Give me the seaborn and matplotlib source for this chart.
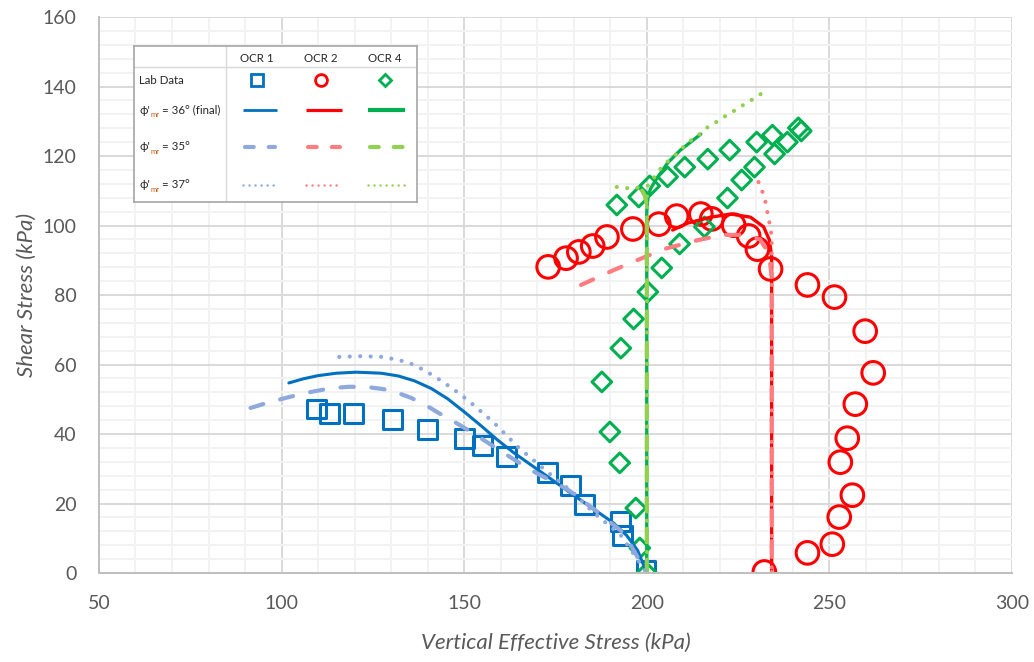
import matplotlib
matplotlib.use('Agg')
import matplotlib.pyplot as plt
import seaborn as sns
from matplotlib.ticker import MultipleLocator

# lab data
ocr1_lab_x = [109.6, 113.1, 119.7, 130.3, 140.0, 150.0, 155.1, 161.5, 172.9, 179.0, 182.9, 192.7, 193.4, 199.8]
ocr1_lab_y = [47.2, 45.8, 45.8, 44.2, 41.4, 38.6, 36.8, 33.6, 28.9, 25.1, 19.6, 14.8, 10.9, 0.6]

ocr2_lab_x = [173.0, 177.9, 181.4, 185.2, 189.1, 196.2, 203.3, 208.2, 214.8, 217.8, 223.8, 227.9, 230.3, 233.9,
              244.0, 251.4, 259.8, 262.0, 257.1, 254.9, 253.0, 256.3, 252.7, 250.8, 244.0, 232.2]
ocr2_lab_y = [88.1, 90.6, 92.4, 94.1, 96.7, 99.0, 100.4, 102.7, 103.3, 101.9, 100.1, 97.0, 93.2, 87.5,
              82.9, 79.4, 69.6, 57.6, 48.6, 38.8, 31.9, 22.4, 16.1, 8.3, 5.8, 0.3]

ocr4_lab_x = [200.0, 198.1, 197.0, 192.6, 189.9, 187.7, 192.9, 196.4, 200.3, 204.1, 209.0, 215.8, 222.1, 226.0,
              229.5, 235.0, 238.5, 241.5, 242.3, 234.4, 230.1, 222.7, 216.7, 210.4, 205.7, 200.8, 197.8, 191.8]
ocr4_lab_y = [0.0, 7.2, 18.7, 31.7, 40.6, 55.0, 64.7, 73.1, 80.9, 87.8, 94.7, 99.6, 107.9, 113.1,
              116.8, 120.6, 124.0, 128.1, 127.2, 126.0, 124.0, 121.7, 119.1, 116.8, 114.0, 111.4, 108.2, 105.9]

# model curves: phi'mr = 36 (final), 35, 37
ocr1_36_x = [102.0, 106.0, 110.0, 115.0, 120.5, 127.3, 132.0, 136.4, 141.0, 145.4, 150.0, 154.6, 159.0,
             163.6, 172.9, 181.9, 190.9, 194.5, 197.5, 200.0]
ocr1_36_y = [54.7, 55.9, 56.8, 57.5, 57.8, 57.5, 56.7, 55.3, 53.1, 50.2, 46.4, 42.4, 38.4,
             34.6, 27.7, 21.0, 14.4, 10.8, 6.5, 0.0]
ocr1_35_x = [91.5, 96.5, 101.9, 107.5, 113.6, 118.5, 123.7, 128.0, 131.4, 135.5, 139.5, 143.1, 147.5,
             151.9, 160.9, 168.3, 178.4, 185.5, 193.7, 200.0]
ocr1_35_y = [47.5, 49.1, 50.6, 52.0, 53.2, 53.6, 53.5, 52.9, 52.0, 50.4, 48.3, 46.0, 43.4,
             40.6, 34.5, 29.6, 24.0, 18.4, 11.5, 0.0]
ocr1_37_x = [115.8, 121.8, 127.8, 133.6, 136.3, 140.0, 144.2, 147.8, 151.3, 158.2, 165.0, 172.9, 180.0,
             185.5, 192.8, 200.0]
ocr1_37_y = [62.2, 62.4, 62.2, 60.9, 59.9, 57.8, 55.0, 52.3, 49.5, 43.2, 36.0, 29.0, 23.0,
             17.3, 11.0, 0.0]

ocr2_36_x = [207.1, 211.2, 217.5, 223.0, 228.4, 232.0, 233.6, 234.2, 234.2, 234.2]
ocr2_36_y = [98.7, 100.7, 102.4, 103.3, 102.4, 99.6, 95.8, 91.0, 50.0, 0.0]
ocr2_35_x = [182.0, 191.0, 204.6, 214.0, 221.0, 226.5, 231.0, 233.5, 234.2, 234.2]
ocr2_35_y = [82.9, 87.2, 93.2, 95.8, 97.3, 97.3, 96.0, 92.0, 85.0, 0.0]
ocr2_37_x = [230.6, 231.7, 232.5, 233.0, 233.6, 234.2, 234.2]
ocr2_37_y = [112.5, 109.6, 106.8, 103.9, 100.7, 97.0, 0.0]

ocr4_36_x = [200.0, 200.0, 200.0, 200.3, 201.0, 202.4, 205.7, 209.2, 214.8]
ocr4_36_y = [0.0, 60.0, 104.0, 108.0, 110.5, 113.0, 118.0, 121.7, 126.3]
ocr4_35_x = [200.0, 200.0, 200.0, 199.5, 198.5]
ocr4_35_y = [0.0, 60.0, 106.0, 108.5, 110.5]
ocr4_37_stem_x = [200.0, 200.0]
ocr4_37_stem_y = [0.0, 109.0]
ocr4_37_x = [191.8, 196.0, 200.3, 202.0, 203.8, 205.7, 207.9, 210.1, 212.3, 214.8, 216.9, 219.7, 222.1, 224.6, 227.0, 229.8, 232.2]
ocr4_37_y = [111.1, 110.6, 111.5, 113.8, 116.4, 118.4, 120.4, 122.7, 124.7, 126.5, 128.5, 130.2, 131.9, 133.4, 135.1, 136.8, 138.6]

BLUE, BLUE_L = '#0070C0', '#8EA9DB'
RED, RED_L = '#FF0000', '#FF7C80'
GREEN, GREEN_L = '#00B050', '#92D050'
GREY = '#595959'

DASH = (0, (3.2, 4.2))
DOT = (0, (0.01, 2.5))

sns.set_style('white')
plt.rcParams['font.family'] = ['Lato', 'DejaVu Sans']

fig = plt.figure(figsize=(10.34, 6.62), dpi=100)
ax = fig.add_axes([0.0957, 0.1344, 0.883, 0.8399])


def lab(x, y, marker, size, color):
    sns.scatterplot(x=x, y=y, marker=marker, s=size, color=color, facecolor='none',
                    edgecolor=color, linewidth=2.2, ax=ax)


def curve(x, y, color, lw, ls):
    sns.lineplot(x=x, y=y, sort=False, estimator=None, color=color, linewidth=lw,
                 linestyle=ls, dash_capstyle='round', solid_capstyle='round', ax=ax)


lab(ocr1_lab_x, ocr1_lab_y, 's', 185, BLUE)
lab(ocr2_lab_x, ocr2_lab_y, 'o', 265, RED)
lab(ocr4_lab_x, ocr4_lab_y, 'D', 100, GREEN)

curve(ocr1_36_x, ocr1_36_y, BLUE, 2.2, '-')
curve(ocr2_36_x, ocr2_36_y, RED, 2.4, '-')
curve(ocr4_36_x, ocr4_36_y, GREEN, 2.4, '-')
curve(ocr1_35_x, ocr1_35_y, BLUE_L, 3.0, DASH)
curve(ocr2_35_x, ocr2_35_y, RED_L, 3.0, DASH)
curve(ocr4_35_x, ocr4_35_y, GREEN_L, 3.0, DASH)
curve(ocr1_37_x, ocr1_37_y, BLUE_L, 3.0, DOT)
curve(ocr2_37_x, ocr2_37_y, RED_L, 3.0, DOT)
curve(ocr4_37_stem_x, ocr4_37_stem_y, GREEN_L, 3.0, DOT)
curve(ocr4_37_x, ocr4_37_y, GREEN_L, 3.0, DOT)

ax.set_xlim(50, 300)
ax.set_ylim(0, 160)
ax.xaxis.set_major_locator(MultipleLocator(50))
ax.xaxis.set_minor_locator(MultipleLocator(10))
ax.yaxis.set_major_locator(MultipleLocator(20))
ax.yaxis.set_minor_locator(MultipleLocator(4))
ax.grid(True, which='major', color='#D9D9D9', linewidth=1.4)
ax.grid(True, which='minor', color='#F2F2F2', linewidth=1.4)
ax.set_axisbelow(True)
ax.tick_params(which='both', length=0)
ax.tick_params(axis='x', pad=16, labelsize=14, labelcolor=GREY)
ax.tick_params(axis='y', pad=16, labelsize=14, labelcolor=GREY)
for side in ['top', 'right']:
    ax.spines[side].set_visible(False)
for side in ['left', 'bottom']:
    ax.spines[side].set_color('#BFBFBF')
    ax.spines[side].set_linewidth(1.4)

ax.set_xlabel('Vertical Effective Stress (kPa)', fontsize=16, style='italic', color=GREY, va='center')
ax.xaxis.set_label_coords(0.5, -0.125)
ax.set_ylabel('Shear Stress (kPa)', fontsize=16, style='italic', color=GREY, va='center')
ax.yaxis.set_label_coords(-0.079, 0.5)

# table-style legend drawn in its own small axes (pixel units inside the box)
lax = fig.add_axes([134 / 1034, 1 - 202 / 662, 283 / 1034, 156 / 662])
lax.set_xlim(0, 283)
lax.set_ylim(156, 0)
lax.set_xticks([])
lax.set_yticks([])
lax.set_facecolor('white')
for s in lax.spines.values():
    s.set_color('#A6A6A6')
    s.set_linewidth(1.2)
lax.axhline(20.7, color='#D9D9D9', lw=1)
lax.axvline(91.7, color='#D9D9D9', lw=1)

col_x = [122.7, 186.7, 251.0]
row_y = [34, 64, 100.7, 139]
fs = 8.3
for cx, name in zip(col_x, ['OCR 1', 'OCR 2', 'OCR 4']):
    lax.text(cx, 12.3, name, ha='center', va='center', fontsize=fs)

lax.text(5.3, row_y[0], 'Lab Data', ha='left', va='center', fontsize=fs)
for ry, tail in zip(row_y[1:], [' = 36° (final)', ' = 35°', ' = 37°']):
    t1 = lax.text(5.3, ry, "ϕ'", ha='left', va='center', fontsize=fs)
    t2 = lax.annotate('mr', xy=(1, 0.1), xycoords=t1, ha='left', va='center',
                      fontsize=5.5, color='#C55A11')
    lax.annotate(tail, xy=(1, 0.5), xycoords=(t2, t1), ha='left', va='center', fontsize=fs)

lax.plot(col_x[0], row_y[0], marker='s', ms=8, mfc='none', mec=BLUE, mew=2)
lax.plot(col_x[1], row_y[0], marker='o', ms=8.5, mfc='none', mec=RED, mew=2)
lax.plot(col_x[2], row_y[0], marker='D', ms=6, mfc='none', mec=GREEN, mew=2)

spans = [(108.5, 143), (171.5, 208), (234, 270.5)]
solid_w = [2.0, 2.3, 3.0]
for (x0, x1), c, lw in zip(spans, [BLUE, RED, GREEN], solid_w):
    lax.plot([x0, x1], [row_y[1], row_y[1]], color=c, lw=lw, solid_capstyle='butt')
for (x0, x1), c in zip(spans, [BLUE_L, RED_L, GREEN_L]):
    lax.plot([x0 + 2, x1 - 2], [row_y[2], row_y[2]], color=c, lw=3,
             linestyle=(0, (2.1, 3.6)), dash_capstyle='round')
    lax.plot([x0, x1], [row_y[3], row_y[3]], color=c, lw=1.8,
             linestyle=(0, (0.01, 2.4)), dash_capstyle='round')

fig.savefig('out.png', dpi=100)
